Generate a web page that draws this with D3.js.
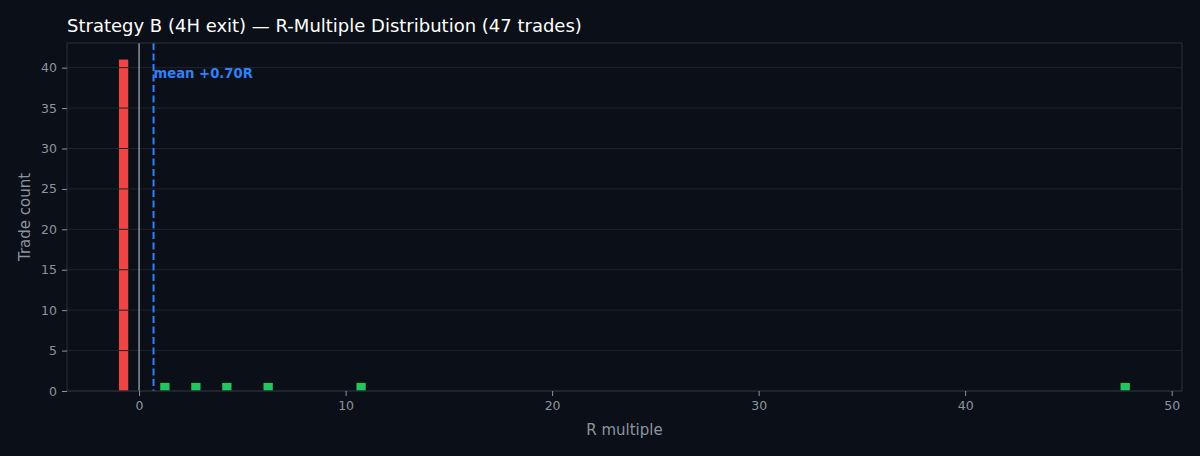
<!DOCTYPE html>
<html><head><meta charset="utf-8">
<script src="https://cdn.jsdelivr.net/npm/d3@7"></script>
<style>html,body{margin:0;padding:0;background:#0b0f17;}svg{display:block;font-family:"DejaVu Sans",sans-serif;}</style>
</head><body><svg id="c" width="1200" height="456"></svg>
<script>
const title = "Strategy B (4H exit) — R-Multiple Distribution (47 trades)";
const binStarts = [-1.0, 1.0, 2.5, 4.0, 6.0, 10.5, 47.5];
const binCounts = [41, 1, 1, 1, 1, 1, 1];
const binWidth = 0.5;
const meanR = 0.70;
const meanLabel = "mean +0.70R";
const xTicks = [0, 10, 20, 30, 40, 50];
const yTicks = [0, 5, 10, 15, 20, 25, 30, 35, 40];
const xLabel = "R multiple", yLabel = "Trade count";

const svg = d3.select("#c");
const m = {l:67, r:1182, t:43, b:391};
const x = d3.scaleLinear().domain([-3.49, 50.5]).range([m.l, m.r]);
const y = d3.scaleLinear().domain([0, 43.05]).range([m.b, m.t]);
const bg = "#0b0f17", grid = "#1f242d", spine = "#2a303a", txt = "#8b949e";

svg.append("rect").attr("width",1200).attr("height",456).attr("fill",bg);

// bars
const bars = binStarts.map((s,i)=>({s, c:binCounts[i]}));
svg.append("g").selectAll("rect").data(bars).join("rect")
  .attr("x", d=>x(d.s + binWidth*0.05))
  .attr("width", d=>x(d.s+binWidth*0.95)-x(d.s+binWidth*0.05))
  .attr("y", d=>y(d.c)).attr("height", d=>y(0)-y(d.c))
  .attr("fill", d=>d.s<0 ? "#ef4444" : "#22c55e");

// grid (drawn above bars)
svg.append("g").selectAll("line").data(yTicks).join("line")
  .attr("x1", m.l).attr("x2", m.r).attr("y1", d=>y(d)).attr("y2", d=>y(d))
  .attr("stroke", grid).attr("stroke-width", 1);

// zero line
svg.append("line").attr("x1",x(0)).attr("x2",x(0)).attr("y1",m.t).attr("y2",m.b)
  .attr("stroke","#8b949e").attr("stroke-width",1.5);
// mean line
svg.append("line").attr("x1",x(meanR)).attr("x2",x(meanR)).attr("y1",m.t).attr("y2",m.b)
  .attr("stroke","#2f81f7").attr("stroke-width",2).attr("stroke-dasharray","7,3.5");
svg.append("text").attr("x", x(meanR)).attr("y", 77.5).attr("fill","#2f81f7")
  .attr("font-size",13.2).attr("font-weight","bold").text(meanLabel);

// spines
svg.append("rect").attr("x",m.l).attr("y",m.t).attr("width",m.r-m.l).attr("height",m.b-m.t)
  .attr("fill","none").attr("stroke",spine).attr("stroke-width",1);

// axes
const xa = svg.append("g").attr("transform",`translate(0,${m.b})`)
  .call(d3.axisBottom(x).tickValues(xTicks).tickSize(5).tickPadding(5));
const ya = svg.append("g").attr("transform",`translate(${m.l},0)`)
  .call(d3.axisLeft(y).tickValues(yTicks).tickSize(5).tickPadding(5));
[xa,ya].forEach(a=>{
  a.select(".domain").remove();
  a.selectAll(".tick line").attr("stroke",txt);
  a.selectAll(".tick text").attr("fill",txt).attr("font-size",12.5).attr("font-family","DejaVu Sans");
});

svg.append("text").attr("x",(m.l+m.r)/2).attr("y",435).attr("text-anchor","middle")
  .attr("fill",txt).attr("font-size",15).text(xLabel);
svg.append("text").attr("transform",`translate(30,${(m.t+m.b)/2}) rotate(-90)`).attr("text-anchor","middle")
  .attr("fill",txt).attr("font-size",15).text(yLabel);
svg.append("text").attr("x",67).attr("y",32).attr("fill","#ffffff").attr("font-size",18).text(title);
</script></body></html>
